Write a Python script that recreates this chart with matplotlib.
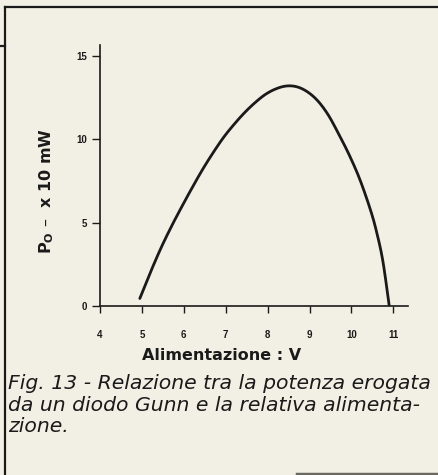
import matplotlib
matplotlib.use('Agg')
import numpy as np
from matplotlib import pyplot as plt
from matplotlib.lines import Line2D

# curve: supply voltage (V) vs output power (x 10 mW)
volts = [4.95, 5.2, 5.45, 5.7, 5.95, 6.2, 6.45, 6.7, 6.95, 7.2, 7.45, 7.7,
         7.95, 8.2, 8.45, 8.7, 8.95, 9.2, 9.45, 9.7, 9.95, 10.2, 10.45,
         10.6, 10.75, 10.9]
power = [0.45, 2.0, 3.45, 4.75, 5.95, 7.1, 8.2, 9.2, 10.12, 10.9, 11.6, 12.2,
         12.7, 13.03, 13.2, 13.15, 12.85, 12.3, 11.45, 10.3, 9.05, 7.6, 5.8,
         4.45, 2.7, 0.05]
xticks = [4, 5, 6, 7, 8, 9, 10, 11]
yticks = [0, 5, 10, 15]


def smooth(xs, ys, n=20):
    # catmull-rom through the read points, just for a smooth pen line
    p = np.column_stack([xs, ys])
    p = np.vstack([2 * p[0] - p[1], p, 2 * p[-1] - p[-2]])
    out = []
    t = np.linspace(0, 1, n, endpoint=False)[:, None]
    for i in range(1, len(p) - 2):
        p0, p1, p2, p3 = p[i - 1], p[i], p[i + 1], p[i + 2]
        seg = 0.5 * ((2 * p1) + (-p0 + p2) * t
                     + (2 * p0 - 5 * p1 + 4 * p2 - p3) * t ** 2
                     + (-p0 + 3 * p1 - 3 * p2 + p3) * t ** 3)
        out.append(seg)
    out.append(p[-2][None, :])
    out = np.vstack(out)
    return out[:, 0], out[:, 1]


plt.rcParams['font.family'] = ['Liberation Sans', 'DejaVu Sans']
bg = '#f2efe4'
ink = '#1a1a1a'

fig = plt.figure(figsize=(4.38, 4.75), dpi=100, facecolor=bg)
ax = fig.add_axes([0.2283, 0.3558, 0.7032, 0.5495], facecolor=bg)
sx, sy = smooth(volts, power)
ax.plot(sx, sy, color=ink, lw=2.0, solid_capstyle='round')
ax.set_xlim(4, 11.35)
ax.set_ylim(0, 15.66)
ax.set_xticks(xticks)
ax.set_yticks(yticks)
for s in ['top', 'right']:
    ax.spines[s].set_visible(False)
for s in ['left', 'bottom']:
    ax.spines[s].set_linewidth(1.2)
    ax.spines[s].set_color(ink)
ax.tick_params(axis='y', direction='out', length=6, width=1, pad=3,
               labelsize=7, colors=ink)
ax.tick_params(axis='x', direction='out', length=5, width=1, pad=12,
               labelsize=7, colors=ink)
for lab in ax.get_xticklabels() + ax.get_yticklabels():
    lab.set_fontweight('bold')

fig.text(47 / 438, 1 - 191 / 475, 'P$_\\mathregular{O}$ \u2013  x 10 mW',
         rotation=90, ha='center', va='center', fontsize=11.5,
         fontweight='bold', color=ink, family='DejaVu Sans')
fig.text(222 / 438, 1 - 355 / 475, 'Alimentazione : V', ha='center',
         va='center', fontsize=11.5, fontweight='bold', color=ink,
         family='DejaVu Sans')

caption = ('Fig. 13 - Relazione tra la potenza erogata\n'
           'da un diodo Gunn e la relativa alimenta-\n'
           'zione.')
fig.text(8 / 438, 1 - 374 / 475, caption, ha='left', va='top', fontsize=14.7,
         style='italic', color=ink, linespacing=1.17, family='DejaVu Sans')

# frame lines of the printed page
fig.add_artist(Line2D([5 / 438, 5 / 438], [0, 1 - 7 / 475], color=ink, lw=1.6))
fig.add_artist(Line2D([5 / 438, 1], [1 - 7 / 475, 1 - 7 / 475], color=ink, lw=1.6))
fig.add_artist(Line2D([0, 5 / 438], [1 - 46 / 475, 1 - 46 / 475], color=ink, lw=1.6))
fig.add_artist(Line2D([297 / 438, 1], [1.5 / 475, 1.5 / 475], color='#6a6a60', lw=2.5))

fig.savefig('out.png', dpi=100, facecolor=bg)
